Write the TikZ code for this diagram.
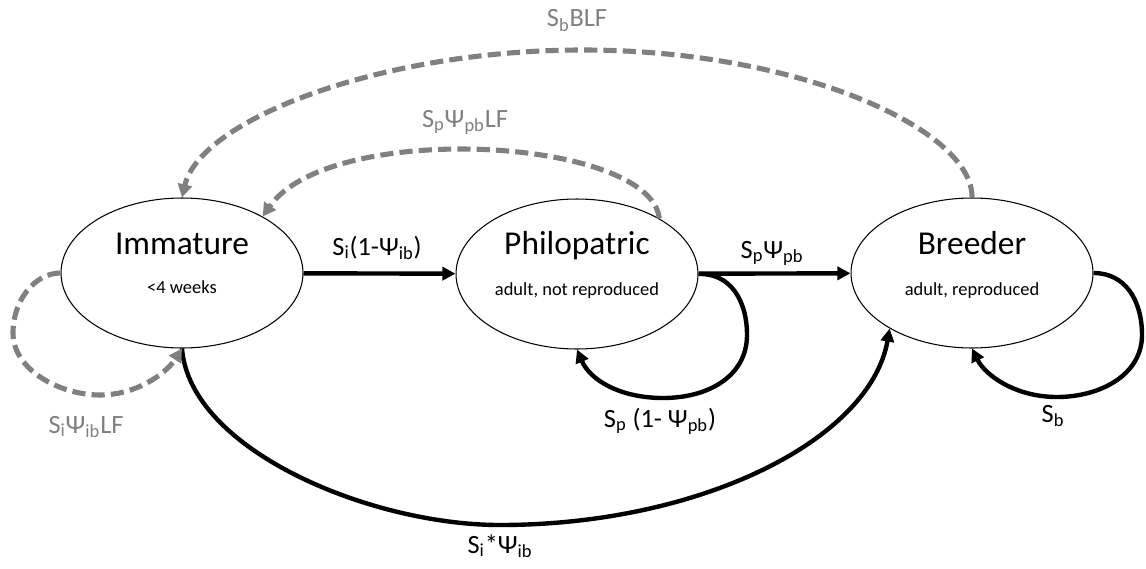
\documentclass[tikz,border=0pt]{standalone}
\usepackage{fontspec}
\setmainfont{Carlito}
\usetikzlibrary{shapes.geometric,arrows.meta}
\newcommand{\lo}[1]{\textsubscript{#1}}
\definecolor{lfgrey}{HTML}{808080}

\begin{document}
\begin{tikzpicture}[x=0.02cm, y=-0.02cm,
    state/.style={ellipse, draw, line width=0.6pt, minimum width=4.84cm, minimum height=3cm, inner sep=0pt},
    title/.style={anchor=base, font=\fontsize{19}{22}\selectfont},
    note/.style={anchor=base, font=\fontsize{10.5}{12}\selectfont},
    rate/.style={anchor=base, font=\fontsize{15}{18}\selectfont},
    greyrate/.style={rate, text=lfgrey},
    flow/.style={line width=2.5pt, -{Triangle[length=7.5pt,width=7.5pt]}},
    back/.style={line width=2.9pt, lfgrey, dash pattern=on 7.5pt off 3.5pt, -{Triangle[length=7.5pt,width=8pt]}}]
    \useasboundingbox (0, 0) rectangle (1146, 568);

    % states
    \node[state] (imm) at (182, 273) {};
    \node[title] (immT) at (182, 254) {Immature};
    \node[note] (immN) at (182, 293) {<4 weeks};

    \node[state] (phil) at (577, 274) {};
    \node[title] (philT) at (577, 254) {Philopatric};
    \node[note] (philN) at (577, 295) {adult, not reproduced};

    \node[state] (brd) at (972, 273) {};
    \node[title] (brdT) at (972, 254) {Breeder};
    \node[note] (brdN) at (972, 295) {adult, reproduced};

    % rates
    \node[rate] (rIP) at (377, 255) {S\lo{i}(1-Ψ\lo{ib})};
    \node[rate] (rPB) at (772, 258) {S\lo{p}Ψ\lo{pb}};
    \node[rate] (rPP) at (660, 427) {S\lo{p} (1- Ψ\lo{pb})};
    \node[rate] (rBB) at (1053, 422) {S\lo{b}};
    \node[rate] (rIB) at (500, 553) {S\lo{i}*Ψ\lo{ib}};
    \node[greyrate] (rII) at (86, 433) {S\lo{i}Ψ\lo{ib}LF};
    \node[greyrate] (rPI) at (465, 127) {S\lo{p}Ψ\lo{pb}LF};
    \node[greyrate] (rBI) at (577, 27) {S\lo{b}BLF};

    \draw[flow] (imm) -- (phil);
    \draw[flow] (phil) -- (brd);

    \draw[flow] (phil.east)
    .. controls (730, 273) and (747, 300) .. (747, 335)
    .. controls (747, 375) and (710, 398) .. (663, 398)
    .. controls (620, 398) and (590, 380) .. (phil.south);

    \draw[flow] (brd.east)
    .. controls (1125, 273) and (1142, 300) .. (1142, 335)
    .. controls (1142, 375) and (1100, 397) .. (1057, 397)
    .. controls (1015, 397) and (985, 375) .. (brd.south);

    \draw[flow] (imm.south)
    .. controls (190, 450) and (370, 525) .. (500, 525)
    .. controls (700, 525) and (870, 440) .. (brd.214);

    \draw[back] (imm.west)
    .. controls (35, 273) and (13, 300) .. (13, 333)
    .. controls (13, 370) and (60, 395) .. (100, 395)
    .. controls (135, 395) and (165, 375) .. (imm.south);

    \draw[back] (phil.34)
    .. controls (650, 137) and (330, 120) .. (imm.35);

    \draw[back] (brd.north)
    .. controls (973, 130) and (800, 50) .. (583, 50)
    .. controls (380, 50) and (200, 120) .. (imm.north);

  \end{tikzpicture}
\end{document}
